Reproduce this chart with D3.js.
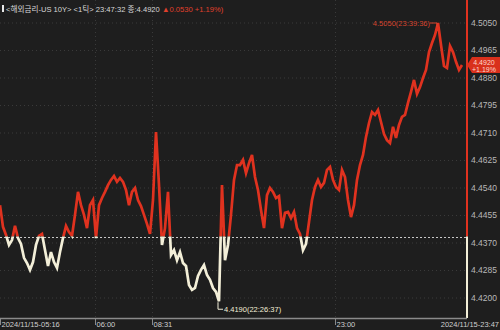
<!DOCTYPE html>
<html>
<head>
<meta charset="utf-8">
<script src="https://cdn.jsdelivr.net/npm/d3@7"></script>
<style>
  body { margin: 0; background: #1e1e1e; }
  svg { display: block; }
  text { font-family: "Liberation Sans", "Noto Sans CJK KR", sans-serif; }
</style>
</head>
<body>
<svg id="chart" width="500" height="330"></svg>
<script>
// tick series, evenly spaced by tick index
const values = [
  4.4487, 4.4420, 4.4395, 4.4364, 4.4379, 4.4423, 4.4385, 4.4367, 4.4324, 4.4308,
  4.4287, 4.4311, 4.4364, 4.4392, 4.4398, 4.4348, 4.4299, 4.4342, 4.4311, 4.4293,
  4.4342, 4.4385, 4.4423, 4.4404, 4.4392, 4.4457, 4.4528, 4.4487, 4.4457, 4.4416,
  4.4487, 4.4503, 4.4385, 4.4487, 4.4509, 4.4528, 4.4549, 4.4565, 4.4577, 4.4559,
  4.4571, 4.4559, 4.4534, 4.4487, 4.4528, 4.4540, 4.4503, 4.4484, 4.4457, 4.4429,
  4.4398, 4.4503, 4.4713, 4.4549, 4.4364, 4.4416, 4.4528, 4.4333, 4.4348, 4.4317,
  4.4342, 4.4308, 4.4299, 4.4240, 4.4225, 4.4231, 4.4268, 4.4287, 4.4302, 4.4271,
  4.4256, 4.4231, 4.4219, 4.4190, 4.4549, 4.4317, 4.4364, 4.4457, 4.4565, 4.4611,
  4.4611, 4.4627, 4.4586, 4.4617, 4.4642, 4.4574, 4.4534, 4.4472, 4.4416, 4.4518,
  4.4540, 4.4528, 4.4509, 4.4515, 4.4416, 4.4463, 4.4466, 4.4447, 4.4466, 4.4416,
  4.4398, 4.4348, 4.4367, 4.4435, 4.4503, 4.4543, 4.4565, 4.4543, 4.4556, 4.4596,
  4.4605, 4.4565, 4.4543, 4.4534, 4.4596, 4.4574, 4.4503, 4.4450, 4.4487, 4.4565,
  4.4611, 4.4642, 4.4698, 4.4741, 4.4775, 4.4766, 4.4781, 4.4744, 4.4707, 4.4688,
  4.4679, 4.4729, 4.4695, 4.4735, 4.4760, 4.4766, 4.4803, 4.4837, 4.4874, 4.4831,
  4.4852, 4.4880, 4.4905, 4.4960, 4.4988, 4.5013, 4.5050, 4.4982, 4.4917, 4.4911,
  4.4979, 4.4960, 4.4930, 4.4905, 4.4920
];
const prevClose = 4.4390;
const lastValue = 4.4920;

const yTicks = [4.5050, 4.4965, 4.4880, 4.4795, 4.4710, 4.4625, 4.4540, 4.4455, 4.4370, 4.4285, 4.4200];
const timeTickIdx = [0, 31.7, 50.7, 111.7];
const timeTickLabels = ["2024/11/15-05:16", "06:00", "08:31", "23:00"];
const endLabel = "2024/11/15-23:47";

const titleMain = "<해외금리-US 10Y> <1틱> 23:47:32 종:4.4920 ";
const titleChange = "▲0.0530  +1.19%)";
const maxLabel = "4.5050(23:39:36)";
const minLabel = "4.4190(22:26:37)";
const tagLines = ["4.4920", "+1.19%"];

const red = "#e0321f";
const cream = "#f3efd8";
const axisX = 467, bottomY = 318;

const svg = d3.select("#chart");
svg.append("rect").attr("width", 500).attr("height", 330).attr("fill", "#1e1e1e");

const x = d3.scaleLinear().domain([0, values.length - 1]).range([0, 462]);
const y = d3.scaleLinear().domain([4.4200, 4.5050]).range([298, 23]);

// grid
svg.append("g").selectAll("line").data(yTicks).join("line")
  .attr("x1", 0).attr("x2", axisX)
  .attr("y1", d => y(d)).attr("y2", d => y(d))
  .attr("stroke", "#3a3a3a").attr("stroke-width", 1).attr("stroke-dasharray", "1,3");
svg.append("g").selectAll("line").data(timeTickIdx.slice(1)).join("line")
  .attr("x1", d => Math.round(x(d)) + 0.5).attr("x2", d => Math.round(x(d)) + 0.5)
  .attr("y1", 0).attr("y2", bottomY)
  .attr("stroke", "#3a3a3a").attr("stroke-width", 1).attr("stroke-dasharray", "1,3");

// previous close line
svg.append("line")
  .attr("x1", 0).attr("x2", axisX)
  .attr("y1", Math.round(y(prevClose)) + 0.5).attr("y2", Math.round(y(prevClose)) + 0.5)
  .attr("stroke", "#c8c8c8").attr("stroke-width", 1).attr("stroke-dasharray", "2,2");

// two-colour series, split at prev close
const defs = svg.append("defs");
defs.append("clipPath").attr("id", "above").append("rect")
  .attr("x", 0).attr("y", 0).attr("width", axisX).attr("height", y(prevClose));
defs.append("clipPath").attr("id", "below").append("rect")
  .attr("x", 0).attr("y", y(prevClose)).attr("width", axisX).attr("height", bottomY - y(prevClose));

const line = d3.line().x((d, i) => x(i)).y(d => y(d));
svg.append("path").datum(values).attr("d", line).attr("clip-path", "url(#above)")
  .attr("fill", "none").attr("stroke", red).attr("stroke-width", 2.7);
svg.append("path").datum(values).attr("d", line).attr("clip-path", "url(#below)")
  .attr("fill", "none").attr("stroke", cream).attr("stroke-width", 2.7);

// right axis line
svg.append("line").attr("x1", axisX).attr("x2", axisX).attr("y1", 0).attr("y2", y(prevClose))
  .attr("stroke", red).attr("stroke-width", 2);
svg.append("line").attr("x1", axisX).attr("x2", axisX).attr("y1", y(prevClose)).attr("y2", bottomY)
  .attr("stroke", cream).attr("stroke-width", 2);

// y labels
svg.append("g").selectAll("text").data(yTicks).join("text")
  .attr("x", 471).attr("y", d => y(d)).attr("dy", "0.35em")
  .attr("font-size", 8.5).attr("fill", "#b8b8b8")
  .text(d => d.toFixed(4));

// bottom axis
svg.append("line").attr("x1", 0).attr("x2", axisX).attr("y1", bottomY + 0.5).attr("y2", bottomY + 0.5)
  .attr("stroke", "#8a8a8a").attr("stroke-width", 1.5);
const tk = svg.append("g").selectAll("g").data(timeTickIdx).join("g")
  .attr("transform", d => `translate(${Math.round(x(d)) + 0.5},0)`);
tk.append("line").attr("y1", bottomY).attr("y2", bottomY + 7).attr("stroke", "#8a8a8a");
tk.append("text").attr("x", 1).attr("y", 327).attr("font-size", 7.5).attr("fill", "#cfcfcf")
  .text((d, i) => timeTickLabels[i]);
svg.append("text").attr("x", 499).attr("y", 327).attr("text-anchor", "end")
  .attr("font-size", 7.5).attr("fill", "#cfcfcf").text(endLabel);

// max / min annotations
const iMax = d3.maxIndex(values), iMin = d3.minIndex(values);
const px = x(iMax), py = y(values[iMax]);
svg.append("path").attr("d", `M${px - 8},${py} H${px - 1} V${py + 4}`)
  .attr("fill", "none").attr("stroke", "#d8452e").attr("stroke-width", 1);
svg.append("text").attr("x", px - 8).attr("y", py).attr("dy", "0.35em").attr("text-anchor", "end")
  .attr("font-size", 7.5).attr("fill", "#d8452e").text(maxLabel);
const mx = x(iMin), my = y(values[iMin]);
svg.append("path").attr("d", `M${mx - 1},${my + 1} V${my + 8} H${mx + 4}`)
  .attr("fill", "none").attr("stroke", cream).attr("stroke-width", 1);
svg.append("text").attr("x", mx + 5).attr("y", my + 8).attr("dy", "0.35em")
  .attr("font-size", 7.5).attr("fill", cream).text(minLabel);

// current value tag
const ty = y(lastValue);
svg.append("path")
  .attr("d", `M${axisX},${ty} L${axisX + 5},${ty - 8} H500 V${ty + 8} H${axisX + 5} Z`)
  .attr("fill", "#d9301c");
svg.append("g").selectAll("text").data(tagLines).join("text")
  .attr("x", 484).attr("y", (d, i) => ty - 3 + i * 7.5).attr("dy", "0.35em")
  .attr("text-anchor", "middle").attr("font-size", 7).attr("fill", "#ffd9cc")
  .text(d => d);

// title
svg.append("rect").attr("x", 2).attr("y", 5).attr("width", 2).attr("height", 7).attr("fill", "#e8e8e8");
const title = svg.append("text").attr("x", 6).attr("y", 12).attr("font-size", 7.6)
  .attr("font-family", "'Noto Sans CJK KR', sans-serif");
title.append("tspan").attr("fill", "#d8d8d8").text(titleMain);
title.append("tspan").attr("fill", "#e0402c").text(titleChange);
</script>
</body>
</html>
